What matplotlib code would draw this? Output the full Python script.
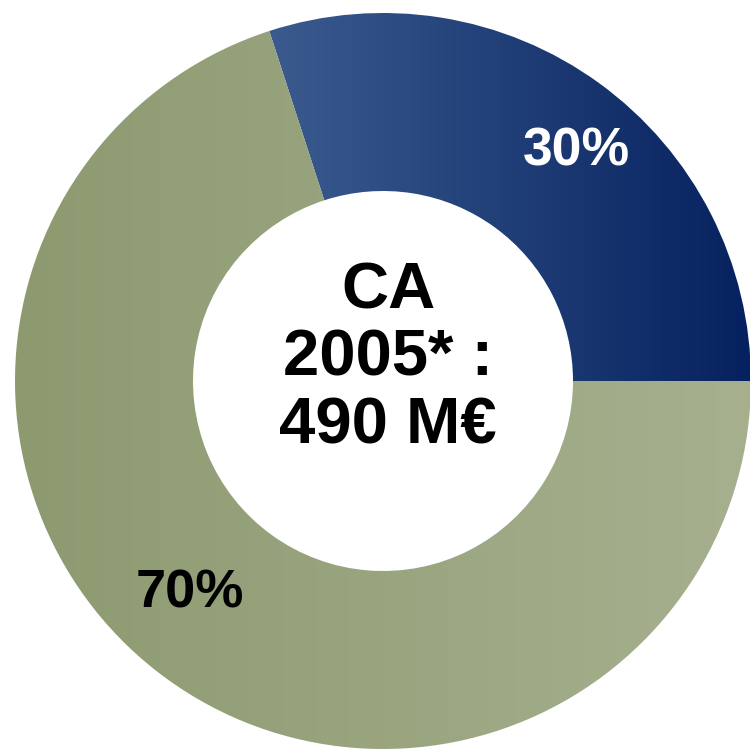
import numpy as np
import matplotlib.pyplot as plt
from matplotlib.patches import Wedge
from matplotlib.colors import LinearSegmentedColormap

# data
shares = [30, 70]
labels = ['30%', '70%']
center_text = 'CA\n2005* :\n490 M\u20ac'

# look
cx, cy = 383, 381
r_out, r_in = 368, 190
grad_colors = [('#3b5b8f', '#06215f'), ('#8d9a70', '#a6b08f')]
label_colors = ['white', 'black']
label_pos = [(576, 151), (190, 593)]
label_sizes = [38.5, 39]

plt.rcParams['font.family'] = ['Liberation Sans', 'DejaVu Sans']

fig = plt.figure(figsize=(7.5, 7.49), dpi=100)
ax = fig.add_axes([0, 0, 1, 1])
ax.set_xlim(0, 750)
ax.set_ylim(749, 0)
ax.set_aspect('equal')
ax.axis('off')

start = 0.0
for i, s in enumerate(shares):
    ang = s / sum(shares) * 360
    # y axis is flipped, so counter-clockwise on screen means negative angles
    w = Wedge((cx, cy), r_out, -(start + ang), -start, width=r_out - r_in,
              facecolor='none', edgecolor='none')
    ax.add_patch(w)
    bb = w.get_path().get_extents()
    cmap = LinearSegmentedColormap.from_list('g%d' % i, grad_colors[i])
    grad = np.linspace(0, 1, 256).reshape(1, -1)
    im = ax.imshow(grad, cmap=cmap, aspect='auto',
                   extent=(bb.x0, bb.x1, bb.y1, bb.y0), zorder=1)
    im.set_clip_path(w)
    ax.text(label_pos[i][0], label_pos[i][1], labels[i], color=label_colors[i],
            fontsize=label_sizes[i], fontweight='bold', ha='center', va='center', zorder=3)
    start += ang

ax.set_xlim(0, 750)
ax.set_ylim(749, 0)

ax.text(cx + 5, 359, center_text, ha='center', va='center', fontsize=47,
        fontweight='bold', linespacing=1.17, zorder=3)

fig.savefig('out.png', dpi=100)
